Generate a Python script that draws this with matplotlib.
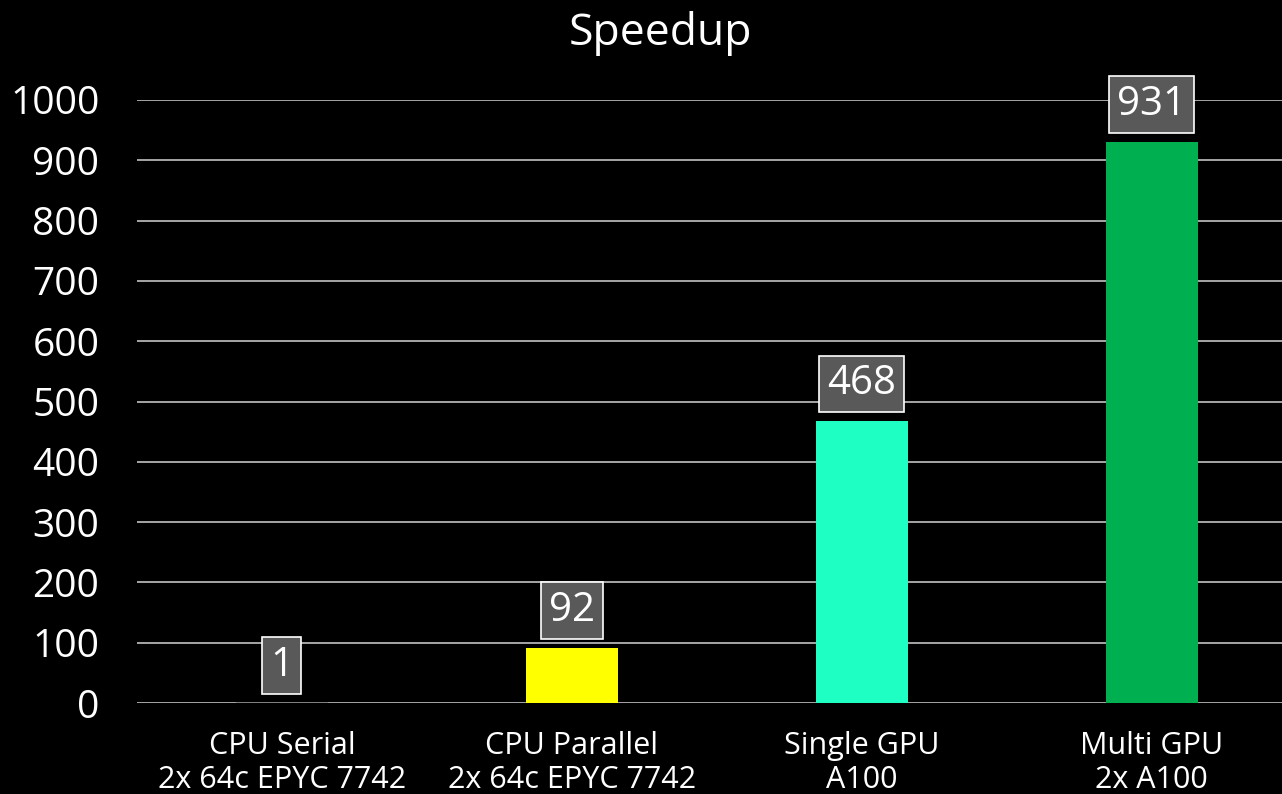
import matplotlib
matplotlib.use("Agg")
import matplotlib.pyplot as plt

categories = ["CPU Serial\n2x 64c EPYC 7742", "CPU Parallel\n2x 64c EPYC 7742",
              "Single GPU\nA100", "Multi GPU\n2x A100"]
speedup = [1, 92, 468, 931]
colors = ["#7F7F7F", "#FFFF00", "#1EFFC3", "#00B050"]
yticks = [0, 100, 200, 300, 400, 500, 600, 700, 800, 900, 1000]

plt.rcParams['font.family'] = ['Open Sans', 'DejaVu Sans']

fig = plt.figure(figsize=(12.82, 7.94), dpi=100, facecolor="black")
ax = fig.add_axes([137/1282, 1 - 703/794, 1 - 137/1282, (703 - 100)/794])
ax.set_facecolor("black")

x = range(len(categories))
ax.bar(x, speedup, width=0.317, color=colors, zorder=3)

ax.set_xlim(-0.5, 3.45)
ax.set_ylim(0, 1000)
ax.set_yticks(yticks)
ax.set_xticks(list(x))
ax.set_xticklabels(categories, fontsize=22, color="white", linespacing=1.2)
ax.tick_params(axis="y", labelsize=28, colors="white", length=0, pad=27)
ax.tick_params(axis="x", length=0, pad=20)
for lab in ax.get_yticklabels():
    lab.set_color("white")
ax.grid(axis="y", color="#A6A6A6", linewidth=1.4, zorder=0)
ax.set_axisbelow(True)
for s in ax.spines.values():
    s.set_visible(False)

# value labels in grey boxes above each bar
for i, v in enumerate(speedup):
    ax.annotate(str(v), (i, v), xytext=(0, 12), textcoords="offset points",
                ha="center", va="bottom", fontsize=29, color="white",
                bbox=dict(boxstyle="square,pad=0.2", fc="#595959", ec="white", lw=1.2),
                zorder=5, annotation_clip=False)

fig.text(660/1282, 1 - 33/794, "Speedup", ha="center", va="center",
         fontsize=32, color="white")

fig.savefig("out.png", dpi=100, facecolor="black")
